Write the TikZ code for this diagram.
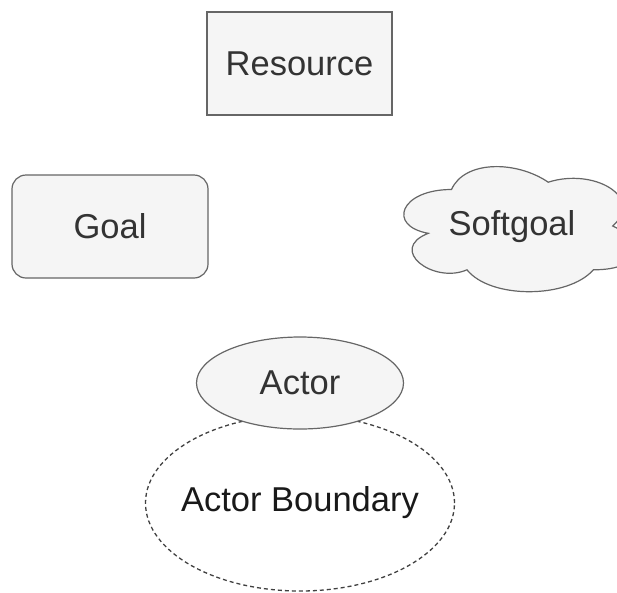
\documentclass[tikz,border=0pt]{standalone}
\usepackage{fontspec}
\setmainfont{Liberation Sans}
\usetikzlibrary{shapes.geometric}
\definecolor{shapefill}{HTML}{F5F5F5}
\definecolor{shapeline}{HTML}{666666}
\definecolor{labeltext}{HTML}{333333}
\begin{document}
\begin{tikzpicture}[x=1pt, y=-1pt,
  every node/.style={font=\fontsize{34.5}{40}\selectfont, text=labeltext},
  elem/.style={draw=shapeline, fill=shapefill, line width=1.2pt},
  boundary/.style={draw=black!75, line width=1.3pt, dash pattern=on 4pt off 3pt}]
  \useasboundingbox (0,0) rectangle (617,592);
  \begin{scope}
    \clip (0,0) rectangle (617,592);

    % resource: plain rectangle
    \node[elem, minimum width=185pt, minimum height=103pt, inner sep=0pt] (resource) at (299.5,63.5) {Resource};

    % goal: rounded rectangle
    \node[elem, rounded corners=14pt, minimum width=196pt, minimum height=103pt, inner sep=0pt] (goal) at (110,226.5) {Goal};

    % softgoal: cloud outline
    \begin{scope}[shift={(387,153)}, x=258pt, y=-146pt]
      \path[elem] (0.25,0.25)
        .. controls (0.05,0.25) and (0,0.5) .. (0.16,0.55)
        .. controls (0,0.66) and (0.18,0.9) .. (0.31,0.8)
        .. controls (0.4,1) and (0.7,1) .. (0.8,0.8)
        .. controls (1,0.8) and (1,0.6) .. (0.875,0.5)
        .. controls (1,0.3) and (0.8,0.1) .. (0.625,0.2)
        .. controls (0.5,0.05) and (0.3,0.05) .. (0.25,0.25) -- cycle;
    \end{scope}
    \node[inner sep=0pt] (softgoal) at (512,227) {Softgoal};

    % actor boundary behind the actor
    \node[boundary, ellipse, minimum width=309pt, minimum height=176pt, inner sep=0pt] (boundary) at (300,503) {};
    \node[inner sep=0pt, text=black!90] (boundarytext) at (boundary.center) {Actor Boundary};

    % actor
    \node[elem, ellipse, minimum width=207pt, minimum height=92pt, inner sep=0pt] (actor) at (300,383) {Actor};
  \end{scope}
\end{tikzpicture}
\end{document}
